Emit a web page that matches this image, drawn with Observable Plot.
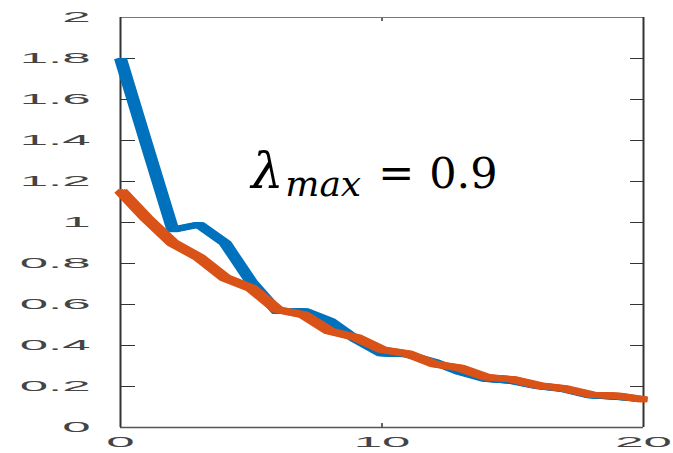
<!DOCTYPE html>
<html><head><meta charset="utf-8">
<script src="https://cdn.jsdelivr.net/npm/d3@7"></script>
<script src="https://cdn.jsdelivr.net/npm/@observablehq/plot@0.6"></script>
<style>html,body{margin:0;padding:0;background:#fff}</style>
</head><body><div id="chart"></div>
<script>
const steps = [0,1,2,3,4,5,6,7,8,9,10,11,12,13,14,15,16,17,18,19,20];
const blueValues = [1.80,1.38,0.965,0.99,0.90,0.71,0.566,0.57,0.52,0.43,0.36,0.355,0.32,0.27,0.235,0.225,0.20,0.185,0.155,0.147,0.137];
const orangeValues = [1.155,1.02,0.90,0.83,0.73,0.68,0.575,0.55,0.47,0.44,0.38,0.36,0.31,0.29,0.245,0.235,0.205,0.19,0.16,0.155,0.137];
const yTickValues = [0,0.2,0.4,0.6,0.8,1,1.2,1.4,1.6,1.8,2];
const yTickLabels = ["0","0.2","0.4","0.6","0.8","1","1.2","1.4","1.6","1.8","2"];
const xTickValues = [0,10,20];
const xTickLabels = ["0","10","20"];
const innerYTicks = [0.2,0.4,0.6,0.8,1,1.2,1.4,1.6,1.8];
const innerXTicks = [10];
const annotation = {x: 5, y: 1.166, symbol: "λ", sub: "max", eq: "=", value: "0.9"};

const blue = steps.map((s,i)=>({x:s, y:blueValues[i]}));
const orange = steps.map((s,i)=>({x:s, y:orangeValues[i]}));

const W = 673, H = 453, mL = 120, mR = 30, mT = 17, mB = 26;
const innerW = W - mL - mR, innerH = H - mT - mB;
const serif = "'DejaVu Serif', 'Liberation Serif', serif";
// the exported figure is stretched horizontally: emulate with horizontally offset copies of each stroke
const smear = [-4, -2, 0, 2, 4];

const lineMarks = (data, color, sw) => smear.map(o =>
  Plot.line(data, {x: "x", y: "y", dx: o, stroke: color, strokeWidth: sw, strokeLinejoin: "round", strokeLinecap: "butt"}));

const plot = Plot.plot({
  width: W, height: H,
  marginLeft: mL, marginRight: mR, marginTop: mT, marginBottom: mB,
  style: {background: "#fff", fontFamily: "'Liberation Sans', Arial, sans-serif"},
  x: {domain: [0, 20], label: null},
  y: {domain: [0, 2], label: null},
  marks: [
    Plot.axisY(yTickValues, {tickSize: 0, tickPadding: 30, fontSize: 15, fill: "#444", label: null,
      tickFormat: d => yTickLabels[yTickValues.indexOf(d)]}),
    Plot.axisX(xTickValues, {tickSize: 0, tickPadding: 9, fontSize: 15, fill: "#444", label: null,
      tickFormat: d => xTickLabels[xTickValues.indexOf(d)]}),
    Plot.tickY(innerYTicks, {y: d => d, insetRight: innerW - 15, stroke: "#333", strokeWidth: 1}),
    Plot.tickY(innerYTicks, {y: d => d, insetLeft: innerW - 13, stroke: "#333", strokeWidth: 1}),
    Plot.tickX(innerXTicks, {x: d => d, insetTop: innerH - 4, stroke: "#333", strokeWidth: 1.5}),
    Plot.tickX(innerXTicks, {x: d => d, insetBottom: innerH - 4, stroke: "#333", strokeWidth: 1.5}),
    Plot.ruleY([2], {stroke: "#777", strokeWidth: 1}),
    Plot.ruleY([0], {stroke: "#555", strokeWidth: 1.5}),
    Plot.ruleX([0, 20], {stroke: "#333", strokeWidth: 2}),
    ...lineMarks(blue, "#0072BD", 5),
    ...lineMarks(orange, "#D95319", 6),
    Plot.text([annotation], {x: "x", y: "y", text: "symbol", textAnchor: "start", lineAnchor: "bottom",
      fontSize: 51, fontStyle: "italic", fontFamily: serif, fill: "#000"}),
    Plot.text([annotation], {x: "x", y: "y", text: "sub", textAnchor: "start", lineAnchor: "bottom", dx: 34, dy: 8,
      fontSize: 36, fontStyle: "italic", fontFamily: serif, fill: "#000"}),
    Plot.text([annotation], {x: "x", y: "y", text: "eq", textAnchor: "start", lineAnchor: "bottom", dx: 127,
      fontSize: 43, fontFamily: serif, fill: "#000"}),
    Plot.text([annotation], {x: "x", y: "y", text: "value", textAnchor: "start", lineAnchor: "bottom", dx: 178,
      fontSize: 43, fontFamily: serif, fill: "#000"})
  ]
});
document.getElementById("chart").append(plot);

// MATLAB-export look: tick labels are horizontally stretched
const stretch = 3.4;
plot.querySelectorAll('g[aria-label="y-axis tick label"] text, g[aria-label="x-axis tick label"] text').forEach(t => {
  const w = t.getComputedTextLength();
  if (w > 0) {
    t.setAttribute("textLength", (w * stretch).toFixed(1));
    t.setAttribute("lengthAdjust", "spacingAndGlyphs");
  }
});
</script>
</body></html>
